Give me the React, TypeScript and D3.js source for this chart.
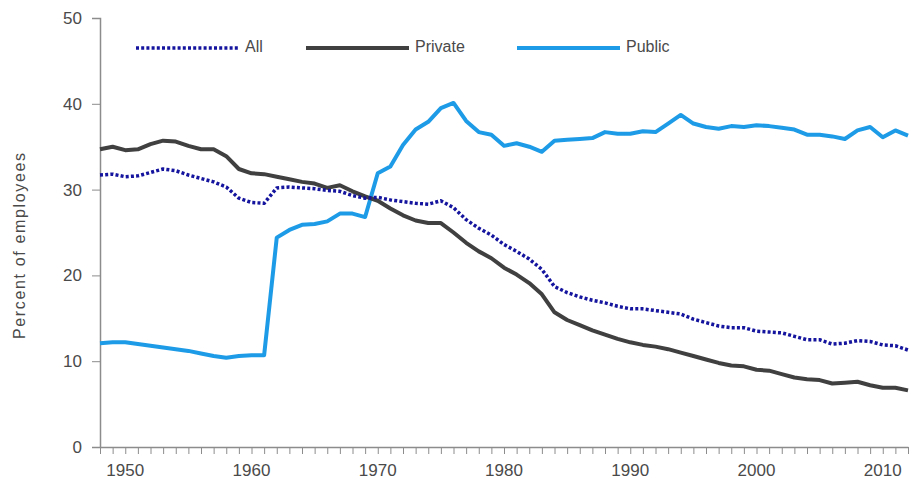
import { useRef, useEffect } from 'react';
import * as d3 from 'd3';

const YEARS: number[] = d3.range(1948, 2013);

const ALL: number[] = [
  31.7, 31.8, 31.5, 31.6, 32.0, 32.4, 32.2, 31.7, 31.3, 30.9,
  30.3, 29.0, 28.5, 28.4, 30.2, 30.3, 30.2, 30.1, 29.9, 29.8,
  29.3, 29.0, 29.1, 28.8, 28.6, 28.4, 28.3, 28.7, 27.9, 26.5,
  25.5, 24.7, 23.6, 22.8, 21.9, 20.7, 18.7, 18.0, 17.5, 17.1,
  16.8, 16.4, 16.1, 16.1, 15.9, 15.7, 15.5, 14.9, 14.5, 14.1,
  13.9, 13.9, 13.5, 13.4, 13.3, 12.9, 12.5, 12.5, 12.0, 12.1,
  12.4, 12.3, 11.9, 11.8, 11.3,
];

const PRIVATE: number[] = [
  34.7, 35.0, 34.6, 34.7, 35.3, 35.7, 35.6, 35.1, 34.7, 34.7,
  33.9, 32.4, 31.9, 31.8, 31.5, 31.2, 30.9, 30.7, 30.2, 30.5,
  29.8, 29.2, 28.7, 27.8, 27.0, 26.4, 26.1, 26.1, 25.0, 23.8,
  22.8, 22.0, 20.9, 20.1, 19.1, 17.8, 15.7, 14.8, 14.2, 13.6,
  13.1, 12.6, 12.2, 11.9, 11.7, 11.4, 11.0, 10.6, 10.2, 9.8,
  9.5, 9.4, 9.0, 8.9, 8.5, 8.1, 7.9, 7.8, 7.4, 7.5,
  7.6, 7.2, 6.9, 6.9, 6.6,
];

const PUBLIC: number[] = [
  12.1, 12.2, 12.2, 12.0, 11.8, 11.6, 11.4, 11.2, 10.9, 10.6,
  10.4, 10.6, 10.7, 10.7, 24.4, 25.3, 25.9, 26.0, 26.3, 27.2,
  27.2, 26.8, 31.9, 32.7, 35.2, 37.0, 37.9, 39.5, 40.1, 38.0,
  36.7, 36.4, 35.1, 35.4, 35.0, 34.4, 35.7, 35.8, 35.9, 36.0,
  36.7, 36.5, 36.5, 36.8, 36.7, 37.7, 38.7, 37.7, 37.3, 37.1,
  37.4, 37.3, 37.5, 37.4, 37.2, 37.0, 36.4, 36.4, 36.2, 35.9,
  36.9, 37.3, 36.1, 36.9, 36.3,
];

const SERIES_NAMES = ['All', 'Private', 'Public'];
const Y_TICKS = [0, 10, 20, 30, 40, 50];
const X_LABELS = [1950, 1960, 1970, 1980, 1990, 2000, 2010];

const COLORS: Record<string, string> = {
  All: '#14149e',
  Private: '#404040',
  Public: '#1e9be6',
};

export default function App() {
  const svgRef = useRef<SVGSVGElement>(null);

  useEffect(() => {
    if (!svgRef.current) return;
    const width = 915;
    const h = 483;
    const margin = { top: 18, right: 7, bottom: 36, left: 100 };

    const svg = d3.select(svgRef.current);
    svg.selectAll('*').remove();
    svg.attr('width', width).attr('height', h).attr('viewBox', `0 0 ${width} ${h}`);

    const x = d3.scaleLinear()
      .domain([1948, 2012])
      .range([margin.left, width - margin.right]);
    const y = d3.scaleLinear()
      .domain([0, 50])
      .range([h - margin.bottom, margin.top]);

    const font = '"Liberation Sans", Arial, sans-serif';
    const axisColor = '#8c8c8c';
    const textColor = '#4a4a4a';

    // y axis
    svg.append('g')
      .attr('transform', `translate(${margin.left},0)`)
      .call(d3.axisLeft(y).tickValues(Y_TICKS).tickSize(8).tickPadding(10).tickFormat(d => `${d}`))
      .call(g => g.select('.domain').attr('stroke', axisColor).attr('stroke-width', 1.5))
      .call(g => g.selectAll('.tick line').attr('stroke', axisColor))
      .call(g => g.selectAll('.tick text')
        .attr('fill', textColor).attr('font-size', '17px').attr('font-family', font));

    // x axis: a minor tick every year, labels every decade
    svg.append('g')
      .attr('transform', `translate(0,${y(0)})`)
      .call(d3.axisBottom(x).tickValues(YEARS).tickSize(7).tickSizeOuter(0).tickFormat(() => ''))
      .call(g => g.select('.domain').attr('stroke', axisColor).attr('stroke-width', 1.5))
      .call(g => g.selectAll('.tick line').attr('stroke', axisColor));

    svg.append('g')
      .selectAll('text')
      .data(X_LABELS)
      .join('text')
      .attr('x', d => x(d))
      .attr('y', y(0) + 29)
      .attr('text-anchor', 'middle')
      .attr('fill', textColor)
      .attr('font-size', '17px')
      .attr('font-family', font)
      .text(d => d);

    // y label
    svg.append('text')
      .attr('transform', 'rotate(-90)')
      .attr('x', -246)
      .attr('y', 25)
      .attr('text-anchor', 'middle')
      .attr('fill', textColor)
      .attr('font-size', '16px')
      .attr('font-family', font)
      .attr('textLength', 186)
      .attr('lengthAdjust', 'spacing')
      .text('Percent of employees');

    const seriesData: Record<string, number[]> = { All: ALL, Private: PRIVATE, Public: PUBLIC };

    const line = d3.line<number>()
      .x((_, i) => x(YEARS[i]))
      .y(d => y(d));

    ['Public', 'Private', 'All'].forEach(name => {
      const path = svg.append('path')
        .datum(seriesData[name])
        .attr('fill', 'none')
        .attr('stroke', COLORS[name])
        .attr('stroke-width', name === 'All' ? 3.5 : 4)
        .attr('stroke-linejoin', 'round')
        .attr('d', line);
      if (name === 'All') path.attr('stroke-dasharray', '3,2.2');
    });

    // legend
    const legendX = [136, 306, 517];
    const legendY = 48;
    SERIES_NAMES.forEach((name, i) => {
      const lx = legendX[i];
      const ln = svg.append('line')
        .attr('x1', lx).attr('x2', lx + 103)
        .attr('y1', legendY).attr('y2', legendY)
        .attr('stroke', COLORS[name])
        .attr('stroke-width', name === 'All' ? 3.5 : 4);
      if (name === 'All') ln.attr('stroke-dasharray', '3,2.2');
      svg.append('text')
        .attr('x', lx + 109)
        .attr('y', legendY)
        .attr('dominant-baseline', 'middle')
        .attr('fill', textColor)
        .attr('font-size', '16px')
        .attr('font-family', font)
        .text(name);
    });
  }, []);

  return (
    <svg
      ref={svgRef}
      style={{ position: 'absolute', left: 0, top: 0, background: '#fff' }}
    />
  );
}
